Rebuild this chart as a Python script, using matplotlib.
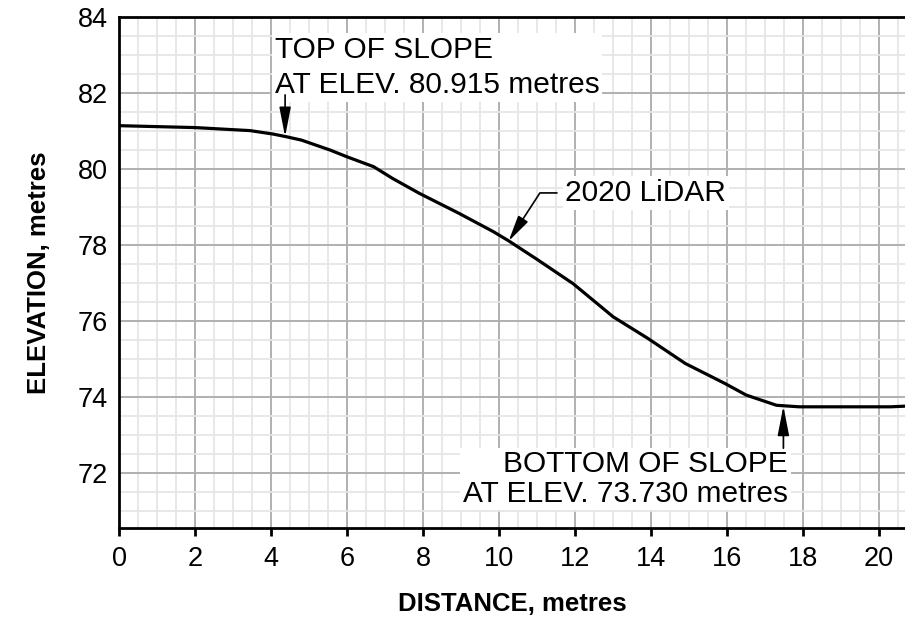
import numpy as np
import matplotlib.pyplot as plt
from matplotlib.ticker import MultipleLocator

plt.rcParams['font.family'] = ['Liberation Sans', 'DejaVu Sans']

# surveyed ground profile (2020 LiDAR)
distance = [0.0, 2.0, 3.45, 4.05, 4.4, 4.8, 5.55, 6.0, 6.7, 7.2, 7.9,
            8.95, 9.85, 10.25, 11.0, 11.95, 13.0, 13.9, 14.9, 15.95,
            16.5, 17.3, 17.9, 20.3, 20.75]
elevation = [81.14, 81.09, 81.01, 80.92, 80.85, 80.76, 80.5, 80.32, 80.06,
             79.75, 79.36, 78.83, 78.35, 78.11, 77.62, 76.98, 76.11, 75.55,
             74.88, 74.35, 74.05, 73.78, 73.74, 73.74, 73.76]

top_x, top_y = 4.37, 80.85
top_label = "TOP OF SLOPE\nAT ELEV. 80.915 metres"
bot_x, bot_y = 17.48, 73.76
bot_label = "BOTTOM OF SLOPE\nAT ELEV. 73.730 metres"
lidar_x, lidar_y = 10.25, 78.1
lidar_label = "2020 LiDAR"

fig = plt.figure(figsize=(9.05, 6.19), dpi=100)
ax = fig.add_axes([0.1315, 0.147, 0.8685, 0.8255])

ax.plot(distance, elevation, color="black", lw=2.3, solid_capstyle="butt", zorder=3)

ax.set_xlim(0, 20.68)
ax.set_ylim(70.55, 84)
ax.xaxis.set_major_locator(MultipleLocator(2))
ax.xaxis.set_minor_locator(MultipleLocator(0.5))
ax.yaxis.set_major_locator(MultipleLocator(2))
ax.yaxis.set_minor_locator(MultipleLocator(0.5))
ax.grid(which="minor", color="#e6e6e6", lw=1.3, zorder=0)
ax.grid(which="major", color="#b0b0b0", lw=1.4, zorder=0)
ax.set_axisbelow(True)

for s in ["left", "bottom", "top"]:
    ax.spines[s].set_linewidth(2)
ax.spines["right"].set_visible(False)
ax.tick_params(axis="x", which="major", direction="out", length=6, width=2,
               labelsize=19.5, pad=7)
ax.tick_params(axis="y", which="major", length=0, labelsize=19.5, pad=8)
ax.tick_params(which="minor", length=0)

ax.set_xlabel("DISTANCE, metres", fontsize=18.5, fontweight="bold", labelpad=14)
ax.set_ylabel("ELEVATION, metres", fontsize=18.5, fontweight="bold", labelpad=19)

box = dict(facecolor="white", edgecolor="none", pad=2)
arrow = dict(arrowstyle="-|>,head_length=1.8,head_width=0.35", color="black",
             lw=1.2, shrinkA=0, shrinkB=0)

ax.annotate(top_label, xy=(top_x, top_y), xytext=(4.1, 82.67),
            fontsize=21.5, ha="left", va="center", bbox=box, linespacing=1.35,
            zorder=4)
ax.annotate("", xy=(top_x, top_y), xytext=(top_x, 81.95),
            arrowprops=arrow, zorder=5)

ax.annotate(bot_label, xy=(bot_x, bot_y), xytext=(17.6, 71.84),
            fontsize=21.5, ha="right", va="center", bbox=box, linespacing=1.07,
            zorder=4)
ax.annotate("", xy=(bot_x, bot_y), xytext=(bot_x, 72.65),
            arrowprops=arrow, zorder=5)

ax.annotate(lidar_label, xy=(lidar_x, lidar_y), xytext=(11.74, 79.37),
            fontsize=21.5, ha="left", va="center", bbox=box, zorder=4,
            arrowprops=dict(arrowstyle="-|>,head_length=1.6,head_width=0.35",
                            mutation_scale=10, color="black", lw=1.2,
                            shrinkA=4, shrinkB=0,
                            connectionstyle="angle,angleA=0,angleB=57,rad=0"))

fig.savefig("out.png", dpi=100)
